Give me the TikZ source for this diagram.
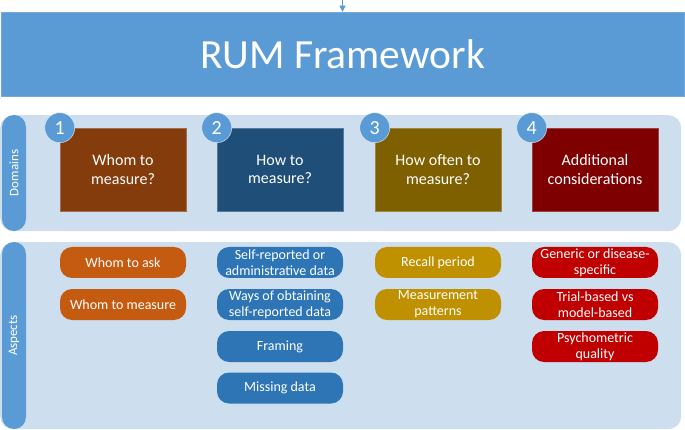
\documentclass[tikz,border=0pt]{standalone}
\usepackage{fontspec}
\setmainfont{Carlito}
\usetikzlibrary{arrows.meta}
\definecolor{tblue}{HTML}{5B9BD5}
\definecolor{panel}{HTML}{CDDEEF}
\definecolor{dA}{HTML}{843C0C}
\definecolor{dB}{HTML}{1F4E79}
\definecolor{dC}{HTML}{7F6000}
\definecolor{dD}{HTML}{7F0000}
\definecolor{aA}{HTML}{C55A11}
\definecolor{aB}{HTML}{2E75B6}
\definecolor{aC}{HTML}{BF9000}
\definecolor{aD}{HTML}{C00000}
\tikzset{
  panelbox/.style={fill=panel, draw=none, rounded corners=13pt, anchor=north west, inner sep=0pt},
  sidebar/.style={fill=tblue, draw=none, rounded corners=12pt, rotate=90, minimum height=24pt, inner sep=0pt, text=white, font=\fontsize{13}{15}\selectfont},
  titlebox/.style={fill=tblue, draw=tblue!85!white, line width=0.6pt, minimum width=683pt, minimum height=84pt, text=white, font=\fontsize{41.5}{48}\selectfont, inner sep=0pt},
  dombox/.style={fill=#1, draw=#1!75!white, line width=0.5pt, minimum width=126pt, minimum height=83pt, text=white, align=center, font=\fontsize{16}{18.5}\selectfont, inner sep=0pt},
  numcirc/.style={circle, fill=tblue, draw=white!85!tblue, line width=0.4pt, minimum size=30pt, inner sep=0pt, text=white, font=\fontsize{20}{22}\selectfont},
  pill/.style={fill=#1, draw=none, rounded corners=12pt, minimum width=126pt, minimum height=31pt, text=white, align=center, font=\fontsize{14}{16}\selectfont, inner sep=0pt},
  toparrow/.style={draw=tblue, line width=0.6pt, -{Triangle[width=6pt,length=6pt]}}
}
\begin{document}
\begin{tikzpicture}[x=1pt,y=-1pt]
\useasboundingbox (0,0) rectangle (685,430);
% title
\node[titlebox] (title) at (342.5,54) {RUM Framework};
\coordinate (topc) at (342.5,0);
\draw[toparrow] (topc) -- (title.north);
% panels
\node[panelbox, minimum width=681pt, minimum height=116pt] (dpanel) at (0,115) {};
\node[panelbox, minimum width=681pt, minimum height=187pt] (apanel) at (0,242) {};
\node[sidebar, minimum width=116pt] (dbar) at (14,173) {Domains};
\node[sidebar, minimum width=187pt] (abar) at (14,335.5) {Aspects};
% domain boxes
\node[dombox=dA] (d1) at (123,169.5) {Whom to\\measure?};
\node[dombox=dB] (d2) at (280,169.5) {How to\\measure?};
\node[dombox=dC] (d3) at (438,169.5) {How often to\\measure?};
\node[dombox=dD] (d4) at (595,169.5) {Additional\\considerations};
\node[numcirc] (n1) at (d1.north west) {1};
\node[numcirc] (n2) at (d2.north west) {2};
\node[numcirc] (n3) at (d3.north west) {3};
\node[numcirc] (n4) at (d4.north west) {4};
% aspects
\node[pill=aA] (a11) at (123,262.5) {Whom to ask};
\node[pill=aA] (a12) at (123,304.5) {Whom to measure};
\node[pill=aB] (a21) at (280,262.5) {Self-reported or\\administrative data};
\node[pill=aB] (a22) at (280,304.5) {Ways of obtaining\\self-reported data};
\node[pill=aB] (a23) at (280,346.5) {Framing};
\node[pill=aB] (a24) at (280,388) {Missing data};
\node[pill=aC] (a31) at (438,262.5) {Recall period};
\node[pill=aC] (a32) at (438,304.5) {Measurement\\patterns};
\node[pill=aD] (a41) at (595,262.5) {Generic or disease-\\specific};
\node[pill=aD] (a42) at (595,304.5) {Trial-based vs\\model-based};
\node[pill=aD] (a43) at (595,346.5) {Psychometric\\quality};
\end{tikzpicture}
\end{document}
